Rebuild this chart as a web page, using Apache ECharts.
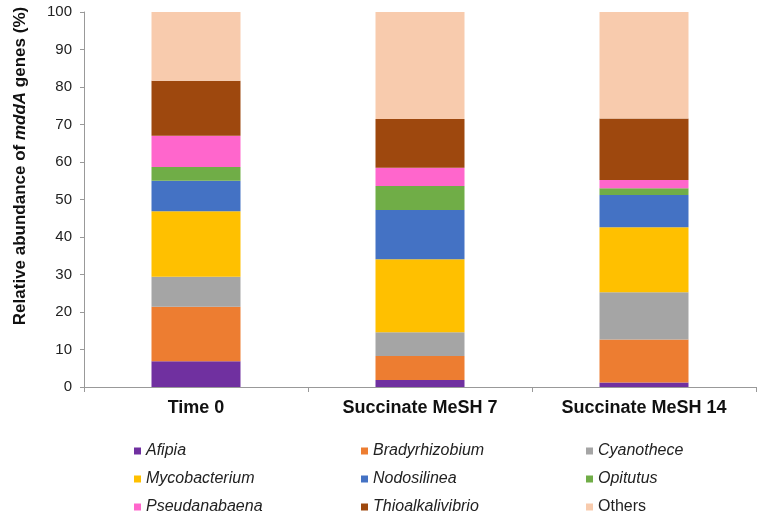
<!DOCTYPE html>
<html>
<head>
<meta charset="utf-8">
<script src="https://cdn.jsdelivr.net/npm/echarts@6/dist/echarts.min.js"></script>
<style>html,body{margin:0;padding:0;background:#fff}#c{width:758px;height:513px}</style>
</head>
<body>
<div id="c"></div>
<script>
var categories = ['Time 0', 'Succinate MeSH 7', 'Succinate MeSH 14'];
var seriesNames = ['Afipia', 'Bradyrhizobium', 'Cyanothece', 'Mycobacterium', 'Nodosilinea', 'Opitutus', 'Pseudanabaena', 'Thioalkalivibrio', 'Others'];
var afipia = [6.9, 1.9, 1.2];
var bradyrhizobium = [14.5, 6.4, 11.5];
var cyanothece = [8.0, 6.3, 12.6];
var mycobacterium = [17.5, 19.5, 17.3];
var nodosilinea = [8.1, 13.1, 8.6];
var opitutus = [3.7, 6.4, 1.8];
var pseudanabaena = [8.3, 4.9, 2.2];
var thioalkalivibrio = [14.7, 13.0, 16.4];
var others = [18.3, 28.5, 28.4];
var yTicks = [0, 10, 20, 30, 40, 50, 60, 70, 80, 90, 100];

var values = [afipia, bradyrhizobium, cyanothece, mycobacterium, nodosilinea, opitutus, pseudanabaena, thioalkalivibrio, others];
var colors = ['#7030A0', '#ED7D31', '#A5A5A5', '#FFC000', '#4472C4', '#70AD47', '#FF66CC', '#9E480E', '#F8CBAD'];

var chart = echarts.init(document.getElementById('c'), null, {renderer: 'canvas'});
var font = 'Liberation Sans, Arial, sans-serif';

function legendBlock(names, left) {
  return {
    orient: 'vertical', left: left, top: 438, height: 100,
    data: names, icon: 'rect', itemWidth: 7, itemHeight: 7, itemGap: 12,
    textStyle: {fontFamily: font, fontSize: 16, lineHeight: 16, color: '#222',
      rich: {i: {fontStyle: 'italic', fontFamily: font, fontSize: 16, lineHeight: 16, color: '#222'},
             n: {fontFamily: font, fontSize: 16, lineHeight: 16, color: '#222'}}},
    formatter: function (n) { return n === 'Others' ? '{n|' + n + '}' : '{i|' + n + '}'; }
  };
}

var option = {
  animation: false,
  color: colors,
  grid: {left: 84, right: 2, top: 12, bottom: 126},
  legend: [
    legendBlock([seriesNames[0], seriesNames[3], seriesNames[6]], 129),
    legendBlock([seriesNames[1], seriesNames[4], seriesNames[7]], 356),
    legendBlock([seriesNames[2], seriesNames[5], seriesNames[8]], 581)
  ],
  graphic: [{
    type: 'text', x: 20, y: 166, rotation: Math.PI / 2,
    style: {
      text: '{b|Relative abundance of }{bi|mddA}{b| genes (%)}',
      align: 'center', verticalAlign: 'middle',
      rich: {
        b: {fontFamily: font, fontSize: 17, fontWeight: 'bold', fill: '#111'},
        bi: {fontFamily: font, fontSize: 17, fontWeight: 'bold', fontStyle: 'italic', fill: '#111'}
      }
    }
  }],
  xAxis: {
    type: 'category', data: categories,
    axisLine: {lineStyle: {color: '#999', width: 1}},
    axisTick: {show: true, length: 5, lineStyle: {color: '#999'}},
    axisLabel: {fontFamily: font, fontSize: 18, fontWeight: 'bold', color: '#111', margin: 12}
  },
  yAxis: {
    type: 'value', min: 0, max: 100, interval: 10,
    axisLine: {show: true, lineStyle: {color: '#999', width: 1}},
    axisTick: {show: true, length: 4, lineStyle: {color: '#999'}},
    splitLine: {show: false},
    axisLabel: {fontFamily: font, fontSize: 15, color: '#222', margin: 12,
      formatter: function (v) { return yTicks.indexOf(v) >= 0 ? String(v) : ''; }}
  },
  series: seriesNames.map(function (n, i) {
    return {name: n, type: 'bar', stack: 'total', barWidth: 89, data: values[i],
      itemStyle: {color: colors[i]}};
  })
};
chart.setOption(option);
</script>
</body>
</html>
